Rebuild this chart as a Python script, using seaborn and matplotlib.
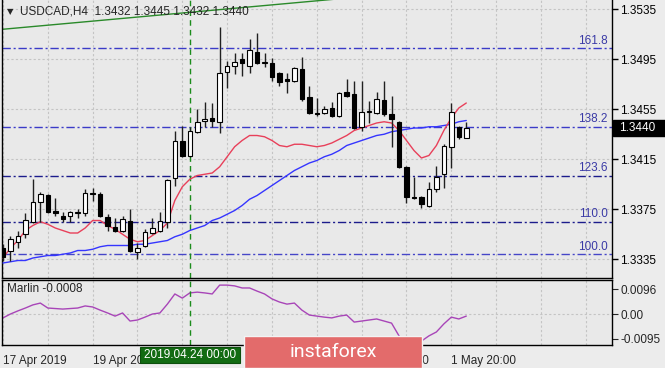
import numpy as np
import pandas as pd
import seaborn as sns
import matplotlib.pyplot as plt
from matplotlib.patches import Rectangle
import matplotlib.transforms as mtransforms

# USDCAD H4 candles (oldest first)
opens = [1.3344, 1.3342, 1.3349, 1.3355, 1.3365, 1.3381, 1.3386, 1.3374, 1.3370, 1.3370,
         1.3372, 1.3372, 1.3388, 1.3387, 1.3369, 1.3361, 1.3358, 1.3366, 1.3341, 1.3346,
         1.3356, 1.3358, 1.3365, 1.3400, 1.3430, 1.3418, 1.3437, 1.3446, 1.3448, 1.3445,
         1.3485, 1.3490, 1.3495, 1.3490, 1.3501, 1.3492, 1.3492, 1.3484, 1.3479, 1.3478,
         1.3487, 1.3465, 1.3452, 1.3452, 1.3456, 1.3450, 1.3469, 1.3467, 1.3441, 1.3453,
         1.3452, 1.3462, 1.3451, 1.3445, 1.3409, 1.3385, 1.3385, 1.3378, 1.3391, 1.3403,
         1.3425, 1.3441, 1.3432]
highs = [1.3347, 1.3354, 1.3358, 1.3372, 1.3399, 1.3389, 1.3387, 1.3384, 1.3373, 1.3374,
         1.3375, 1.3391, 1.3392, 1.3389, 1.3371, 1.3368, 1.3370, 1.3375, 1.3348, 1.3359,
         1.3368, 1.3373, 1.3399, 1.3438, 1.3442, 1.3441, 1.3455, 1.3461, 1.3460, 1.3521,
         1.3494, 1.3500, 1.3500, 1.3511, 1.3516, 1.3500, 1.3496, 1.3485, 1.3484, 1.3489,
         1.3497, 1.3474, 1.3464, 1.3458, 1.3461, 1.3469, 1.3479, 1.3478, 1.3478, 1.3462,
         1.3469, 1.3478, 1.3466, 1.3446, 1.3410, 1.3401, 1.3386, 1.3397, 1.3410, 1.3427,
         1.3460, 1.3442, 1.3445]
lows = [1.3334, 1.3334, 1.3344, 1.3352, 1.3364, 1.3365, 1.3372, 1.3370, 1.3365, 1.3365,
        1.3368, 1.3370, 1.3382, 1.3369, 1.3358, 1.3357, 1.3357, 1.3341, 1.3335, 1.3345,
        1.3355, 1.3357, 1.3360, 1.3394, 1.3417, 1.3417, 1.3436, 1.3441, 1.3441, 1.3436,
        1.3472, 1.3483, 1.3482, 1.3484, 1.3491, 1.3489, 1.3478, 1.3474, 1.3468, 1.3477,
        1.3462, 1.3451, 1.3450, 1.3451, 1.3449, 1.3449, 1.3465, 1.3439, 1.3438, 1.3444,
        1.3451, 1.3450, 1.3425, 1.3408, 1.3380, 1.3383, 1.3376, 1.3377, 1.3389, 1.3392,
        1.3408, 1.3431, 1.3432]
closes = [1.3337, 1.3351, 1.3354, 1.3366, 1.3381, 1.3387, 1.3373, 1.3372, 1.3367, 1.3373,
          1.3373, 1.3388, 1.3387, 1.3370, 1.3362, 1.3358, 1.3367, 1.3342, 1.3344, 1.3357,
          1.3360, 1.3366, 1.3398, 1.3430, 1.3418, 1.3438, 1.3445, 1.3447, 1.3446, 1.3484,
          1.3490, 1.3493, 1.3492, 1.3502, 1.3492, 1.3493, 1.3481, 1.3477, 1.3478, 1.3488,
          1.3463, 1.3452, 1.3451, 1.3455, 1.3450, 1.3468, 1.3466, 1.3440, 1.3453, 1.3454,
          1.3463, 1.3451, 1.3447, 1.3409, 1.3385, 1.3384, 1.3379, 1.3391, 1.3401, 1.3426,
          1.3453, 1.3433, 1.3440]

# moving averages (red = fast, blue = slow)
ma_fast = [1.3336, 1.3344, 1.3350, 1.3358, 1.3362, 1.3365, 1.3363, 1.3360, 1.3358, 1.3356,
           1.3356, 1.3360, 1.3366, 1.3366, 1.3362, 1.3359, 1.3355, 1.3351, 1.3349, 1.3350,
           1.3354, 1.3358, 1.3364, 1.3382, 1.3393, 1.3399, 1.3402, 1.3403, 1.3404, 1.3409,
           1.3417, 1.3425, 1.3430, 1.3434, 1.3434, 1.3433, 1.3430, 1.3426, 1.3425, 1.3427,
           1.3427, 1.3426, 1.3425, 1.3426, 1.3428, 1.3431, 1.3434, 1.3438, 1.3440, 1.3442,
           1.3444, 1.3445, 1.3444, 1.3438, 1.3430, 1.3422, 1.3416, 1.3418, 1.3426, 1.3438,
           1.3448, 1.3456, 1.3460]
ma_slow = [1.3332, 1.3333, 1.3334, 1.3334, 1.3336, 1.3337, 1.3338, 1.3338, 1.3339, 1.3340,
           1.3342, 1.3342, 1.3343, 1.3345, 1.3346, 1.3346, 1.3346, 1.3346, 1.3347, 1.3347,
           1.3348, 1.3349, 1.3350, 1.3353, 1.3355, 1.3358, 1.3360, 1.3362, 1.3366, 1.3368,
           1.3371, 1.3374, 1.3378, 1.3383, 1.3386, 1.3390, 1.3394, 1.3398, 1.3402, 1.3406,
           1.3409, 1.3412, 1.3414, 1.3417, 1.3419, 1.3422, 1.3426, 1.3428, 1.3430, 1.3432,
           1.3434, 1.3435, 1.3437, 1.3438, 1.3439, 1.3440, 1.3440, 1.3441, 1.3441, 1.3442,
           1.3443, 1.3445, 1.3446]

# Marlin oscillator
marlin = [-0.0015, 0.0000, 0.0012, 0.0023, 0.0035, 0.0042, 0.0023, 0.0021, 0.0019, 0.0021,
          0.0023, 0.0031, 0.0027, 0.0015, 0.0004, -0.0008, 0.0004, -0.0027, -0.0023, -0.0012,
          0.0000, 0.0004, 0.0038, 0.0077, 0.0061, 0.0081, 0.0084, 0.0081, 0.0077, 0.0111,
          0.0111, 0.0108, 0.0100, 0.0100, 0.0088, 0.0077, 0.0058, 0.0046, 0.0038, 0.0042,
          0.0015, -0.0004, -0.0008, -0.0012, -0.0015, -0.0008, -0.0004, -0.0031, -0.0027, -0.0023,
          -0.0019, -0.0027, -0.0035, -0.0084, -0.0119, -0.0119, -0.0104, -0.0084, -0.0069, -0.0038,
          -0.0012, -0.0019, -0.0008]

# fibo expansion levels
fib_names = ["161.8", "138.2", "123.6", "110.0", "100.0"]
fib_prices = [1.3504, 1.3441, 1.3402, 1.3365, 1.3339]
fib_colors = ["#3b3bc8", "#3b3bc8", "#1c1c8c", "#1c1c8c", "#4646c8"]

# trend line (two anchor points) and the crosshair bar
trend_idx = [0, 48]
trend_price = [1.3519, 1.3545]
cross_idx = 25

price_ticks = [1.3535, 1.3495, 1.3455, 1.3415, 1.3375, 1.3335]
marlin_ticks = [0.0096, 0.0, -0.0095]
marlin_tick_labels = ["0.0096", "0.00", "-0.0095"]
# labels under the date tag / watermark are not visible on the original
date_ticks = [0, 12, 24, 36, 48, 60]
date_labels = ["17 Apr 2019", "19 Apr 2019", "", "", "30 Apr 08:00", "1 May 20:00"]

df = pd.DataFrame({"idx": np.arange(len(opens)), "open": opens, "high": highs,
                   "low": lows, "close": closes, "fast": ma_fast, "slow": ma_slow,
                   "marlin": marlin})

sns.set_style("white", rc={"axes.facecolor": "#e9e9e9", "figure.facecolor": "#ececec"})
plt.rcParams["font.family"] = ["Liberation Sans", "DejaVu Sans"]
plt.rcParams["font.size"] = 8

fig = plt.figure(figsize=(6.65, 3.68), dpi=100)
ax = fig.add_axes([2 / 665, 90 / 368, 610 / 665, 278 / 368])
ax2 = fig.add_axes([2 / 665, 23 / 368, 610 / 665, 65 / 368])

xmin, xmax = -0.13, 81.5
grid_kw = dict(color="#c4c4c4", lw=0.8, ls=(0, (2, 2)))

# ---- main panel ----
ax.set_xlim(xmin, xmax)
ax.set_ylim(1.3320, 1.35424)
ax.set_xticks(np.arange(0, 82, 6))
ax.tick_params(axis="x", length=0, labelbottom=False)
ax.yaxis.tick_right()
ax.set_yticks(price_ticks)
ax.set_yticklabels([f"{p:.4f}" for p in price_ticks])
ax.tick_params(axis="y", direction="out", length=4, width=1, pad=2, labelsize=8.5, colors="black")
ax.grid(True, **grid_kw)
ax.set_axisbelow(True)

for name, lvl, col in zip(fib_names, fib_prices, fib_colors):
    ax.axhline(lvl, color=col, lw=1, ls=(0, (6, 2, 1.5, 2)), zorder=1.5)
    ax.text(80.9, lvl + 0.00012, name, color="#3a3aa6", ha="right", va="bottom", fontsize=8.5)

ax.plot(trend_idx, trend_price, color="#2a8a2a", lw=1)
ax.axvline(cross_idx, color="#1c8c1c", lw=1, ls=(0, (4, 3)))

sns.lineplot(data=df, x="idx", y="slow", ax=ax, color="#3535ff", lw=1, zorder=4)
sns.lineplot(data=df, x="idx", y="fast", ax=ax, color="#e8405a", lw=1, zorder=4)

up = df["close"] >= df["open"]
body_lo = np.minimum(df["open"], df["close"])
body_h = np.maximum(np.abs(df["close"] - df["open"]), 0.00003)
ax.vlines(df["idx"], df["low"], df["high"], color="#202020", lw=1, zorder=5)
ax.bar(df["idx"], body_h, bottom=body_lo, width=0.6,
       color=np.where(up, "white", "black"), edgecolor="black", lw=0.8, zorder=6)
ax.set_xlabel("")
ax.set_ylabel("")
for s in ["left", "right", "bottom"]:
    ax.spines[s].set_color("black")
    ax.spines[s].set_linewidth(1)
ax.spines["top"].set_visible(False)

# current price box
tr = mtransforms.blended_transform_factory(ax.transAxes, ax.transData)
ax.add_patch(Rectangle((1.002, 1.3440 - 0.0006), 0.09, 0.0012, transform=tr,
                       fc="black", ec="black", clip_on=False, zorder=10))
ax.text(1.012, 1.3440, f"{closes[-1]:.4f}", transform=tr, color="white", ha="left",
        va="center", fontsize=8.5, zorder=11)

# header
fig.text(7 / 665, 1 - 12 / 368, "\u25bc", fontsize=6, family="DejaVu Sans", va="center", ha="left")
fig.text(20 / 665, 1 - 12 / 368,
         f"USDCAD,H4  {opens[-1]:.4f} {highs[-1]:.4f} {lows[-1]:.4f} {closes[-1]:.4f}",
         fontsize=8.5, va="center", ha="left")

# ---- Marlin panel ----
ax2.set_xlim(xmin, xmax)
ax2.set_ylim(-0.0119, 0.01306)
sns.lineplot(data=df, x="idx", y="marlin", ax=ax2, color="#a845b8", lw=1)
ax2.axhline(0, **grid_kw, zorder=0)
ax2.axvline(cross_idx, color="#1c8c1c", lw=1, ls=(0, (4, 3)))
ax2.set_xticks(date_ticks)
ax2.set_xticklabels(date_labels)
for lab in ax2.get_xticklabels():
    lab.set_ha("left")
ax2.set_xticks(np.arange(0, 82, 6), minor=True)
ax2.grid(True, which="both", axis="x", **grid_kw)
ax2.set_axisbelow(True)
ax2.tick_params(axis="x", which="major", direction="out", length=4, pad=3, labelsize=8.5)
ax2.tick_params(axis="x", which="minor", length=0)
ax2.yaxis.tick_right()
ax2.set_yticks(marlin_ticks)
ax2.set_yticklabels(marlin_tick_labels)
ax2.tick_params(axis="y", direction="out", length=4, pad=2, labelsize=8.5)
ax2.set_xlabel("")
ax2.set_ylabel("")
for s in ax2.spines.values():
    s.set_color("black")
    s.set_linewidth(1)
ax2.text(0.008, 0.86, f"Marlin {marlin[-1]:.4f}", transform=ax2.transAxes, fontsize=8.5,
         va="center", ha="left")

# crosshair date tag
fig.patches.append(Rectangle((140 / 665, 5 / 368), 100 / 665, 16 / 368, transform=fig.transFigure,
                             fc="#126b12", ec="#0c4f0c", lw=0.8, zorder=5))
fig.text(190 / 665, 13 / 368, "2019.04.24 00:00", color="white", fontsize=8.5,
         ha="center", va="center", zorder=6)

# watermark
fig.patches.append(Rectangle((244 / 665, 0), 178 / 665, 32 / 368, transform=fig.transFigure,
                             fc="#e36b6b", ec="#f3f3f3", lw=1, zorder=5))
fig.text(333 / 665, 16 / 368, "instaforex", color="white", fontsize=14, family="Roboto",
         ha="center", va="center", zorder=6)

fig.savefig("out.png", dpi=100, facecolor=fig.get_facecolor())
